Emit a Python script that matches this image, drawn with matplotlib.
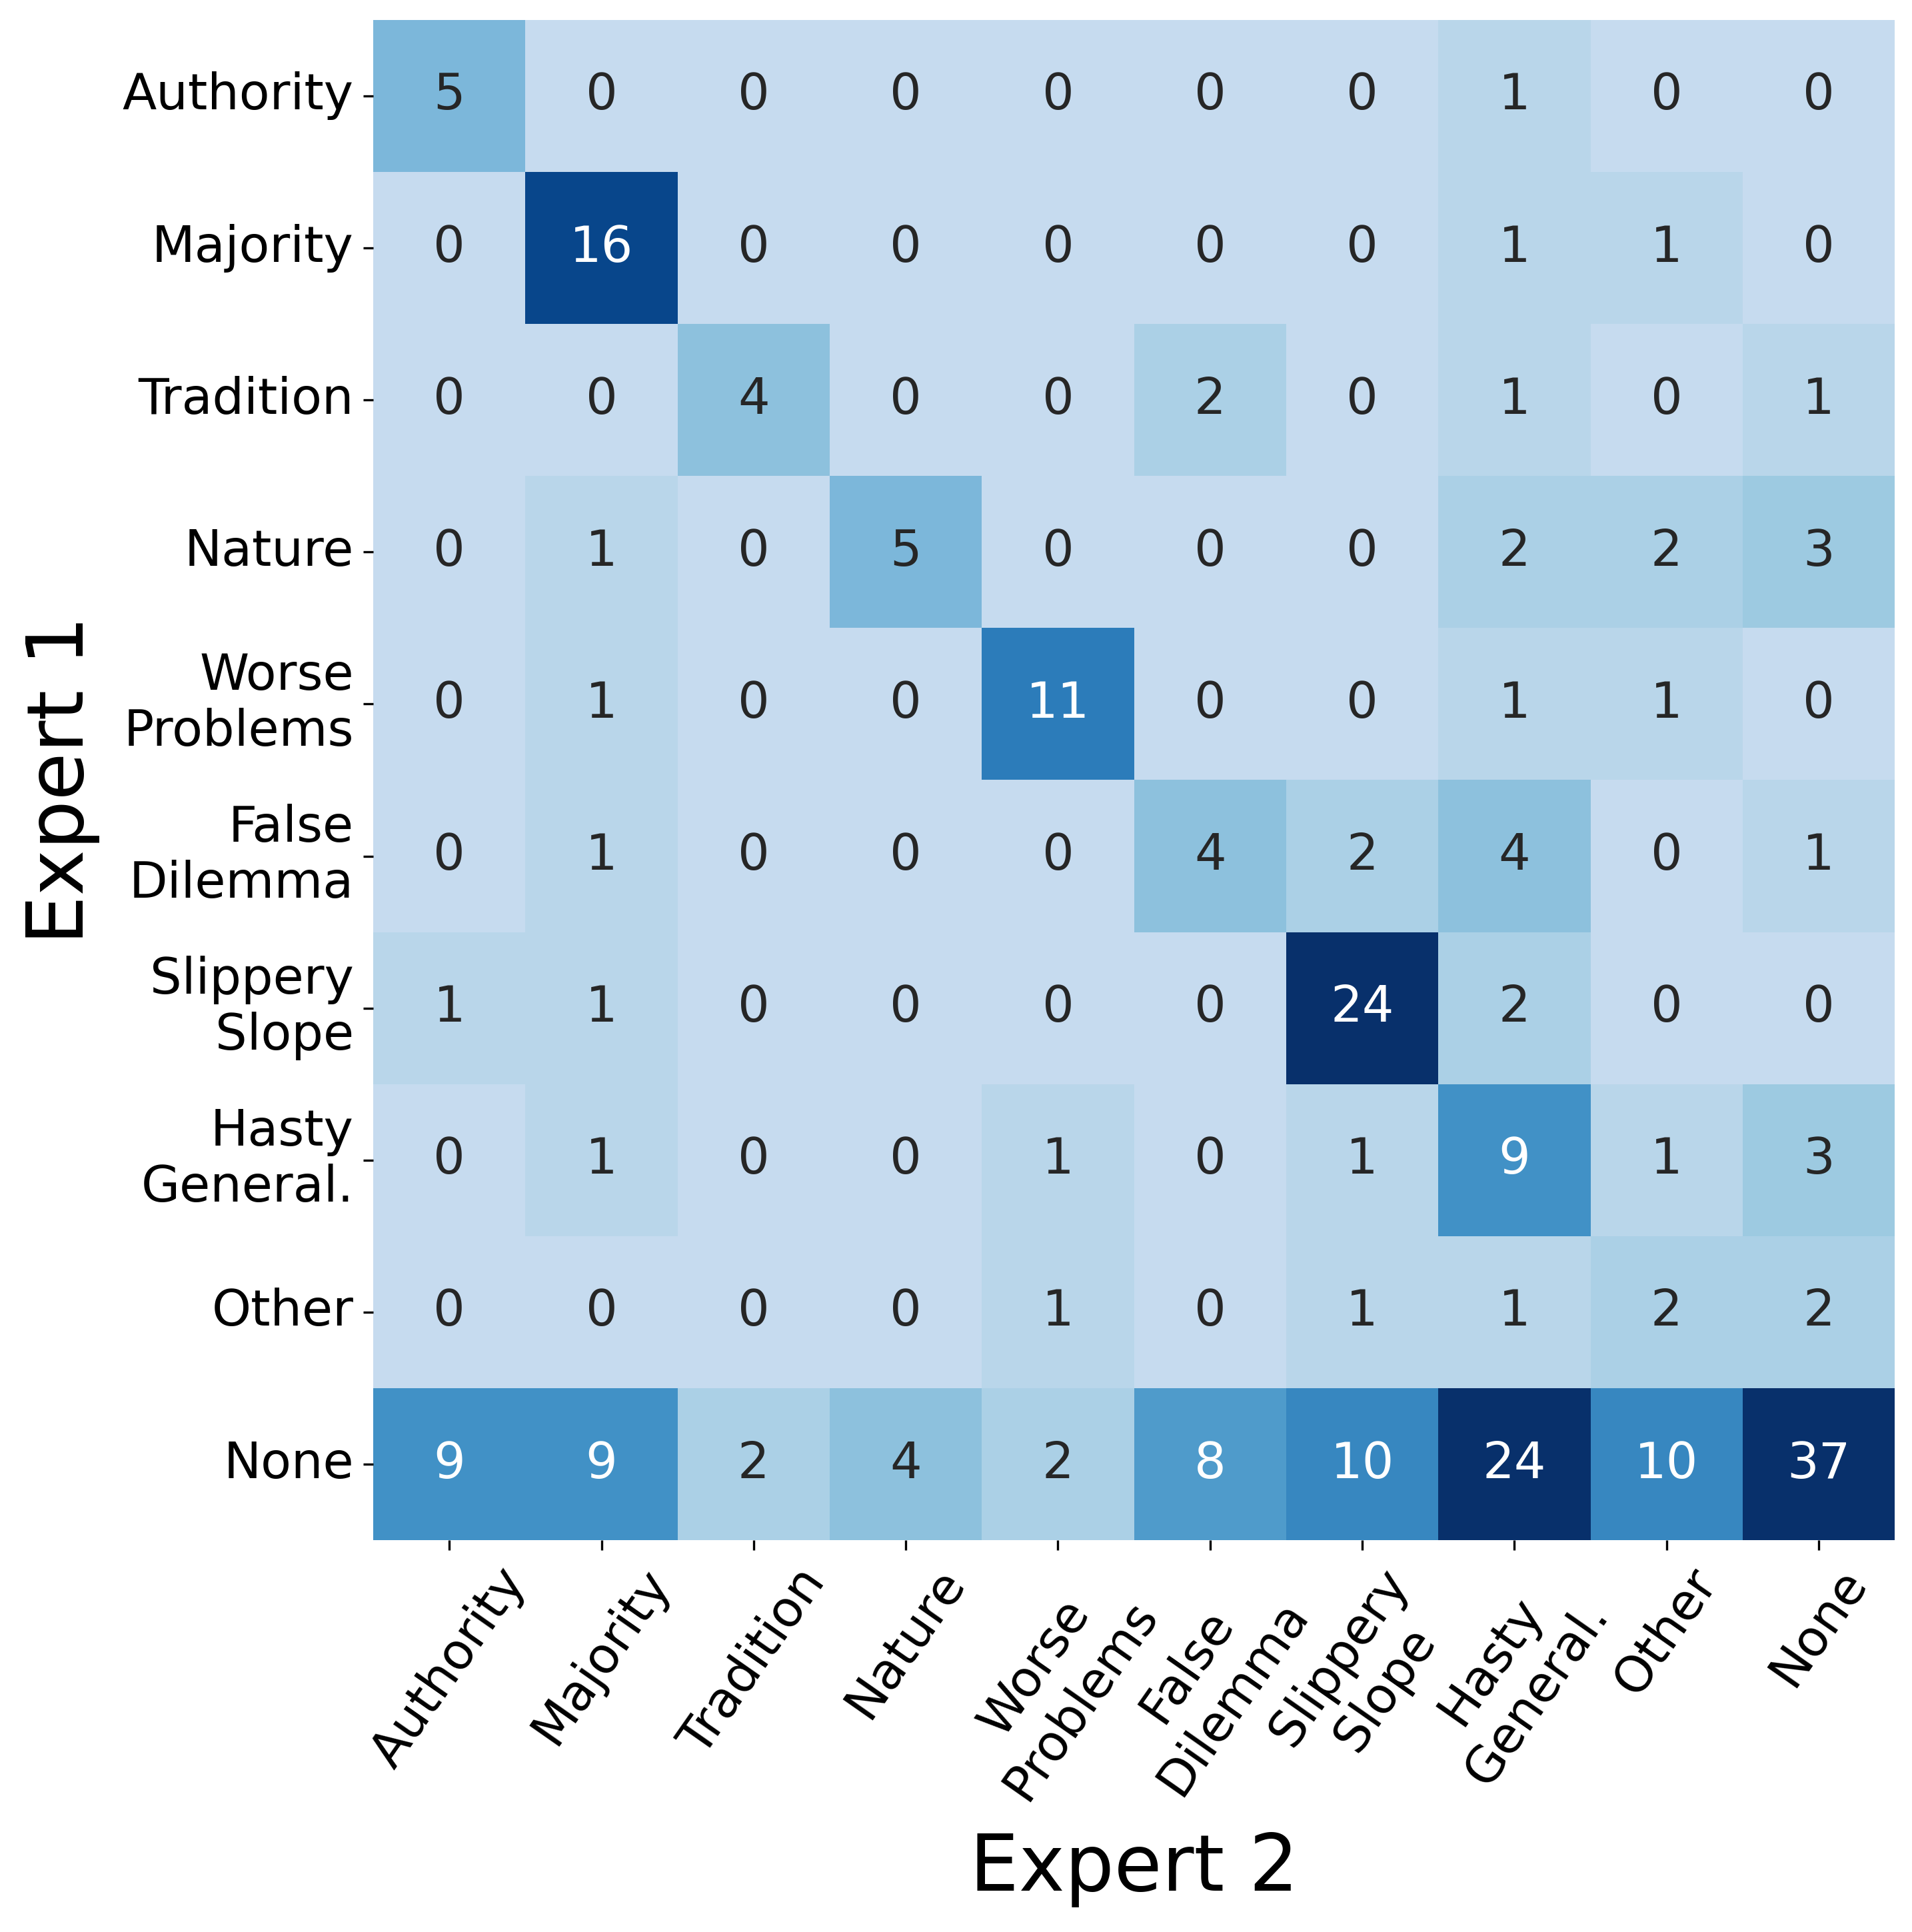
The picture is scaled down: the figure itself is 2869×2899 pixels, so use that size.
import numpy as np
import matplotlib
matplotlib.use('Agg')
import matplotlib.pyplot as plt
import seaborn as sns

#---DATA--------------------------------------------------------------------
labels = ['Authority', 'Majority', 'Tradition', 'Nature', 'Worse\nProblems',
          'False\nDilemma', 'Slippery\nSlope', 'Hasty\nGeneral.', 'Other', 'None']

# rows = Expert 1, columns = Expert 2
counts = np.array([
    [5, 0, 0, 0, 0, 0, 0, 1, 0, 0],
    [0, 16, 0, 0, 0, 0, 0, 1, 1, 0],
    [0, 0, 4, 0, 0, 2, 0, 1, 0, 1],
    [0, 1, 0, 5, 0, 0, 0, 2, 2, 3],
    [0, 1, 0, 0, 11, 0, 0, 1, 1, 0],
    [0, 1, 0, 0, 0, 4, 2, 4, 0, 1],
    [1, 1, 0, 0, 0, 0, 24, 2, 0, 0],
    [0, 1, 0, 0, 1, 0, 1, 9, 1, 3],
    [0, 0, 0, 0, 1, 0, 1, 1, 2, 2],
    [9, 9, 2, 4, 2, 8, 10, 24, 10, 37],
])

#---PLOT--------------------------------------------------------------------
fig = plt.figure(figsize=(2869/300, 2899/300), dpi=300)
ax = fig.add_axes([0.1952, 0.2028, 0.7958, 0.7869])

sns.heatmap(counts, annot=True, fmt='d', cmap='Blues', vmin=-6, vmax=18,
            cbar=False, ax=ax, annot_kws={'fontsize': 18})

ax.set_xticklabels(labels, rotation=55, ha='center', fontsize=18)
ax.set_yticklabels(labels, rotation=0, ha='right', fontsize=18)
ax.set_xlabel('Expert 2', fontsize=28, labelpad=8)
ax.set_ylabel('Expert 1', fontsize=28, labelpad=8)

fig.savefig('out.png', dpi=300)
